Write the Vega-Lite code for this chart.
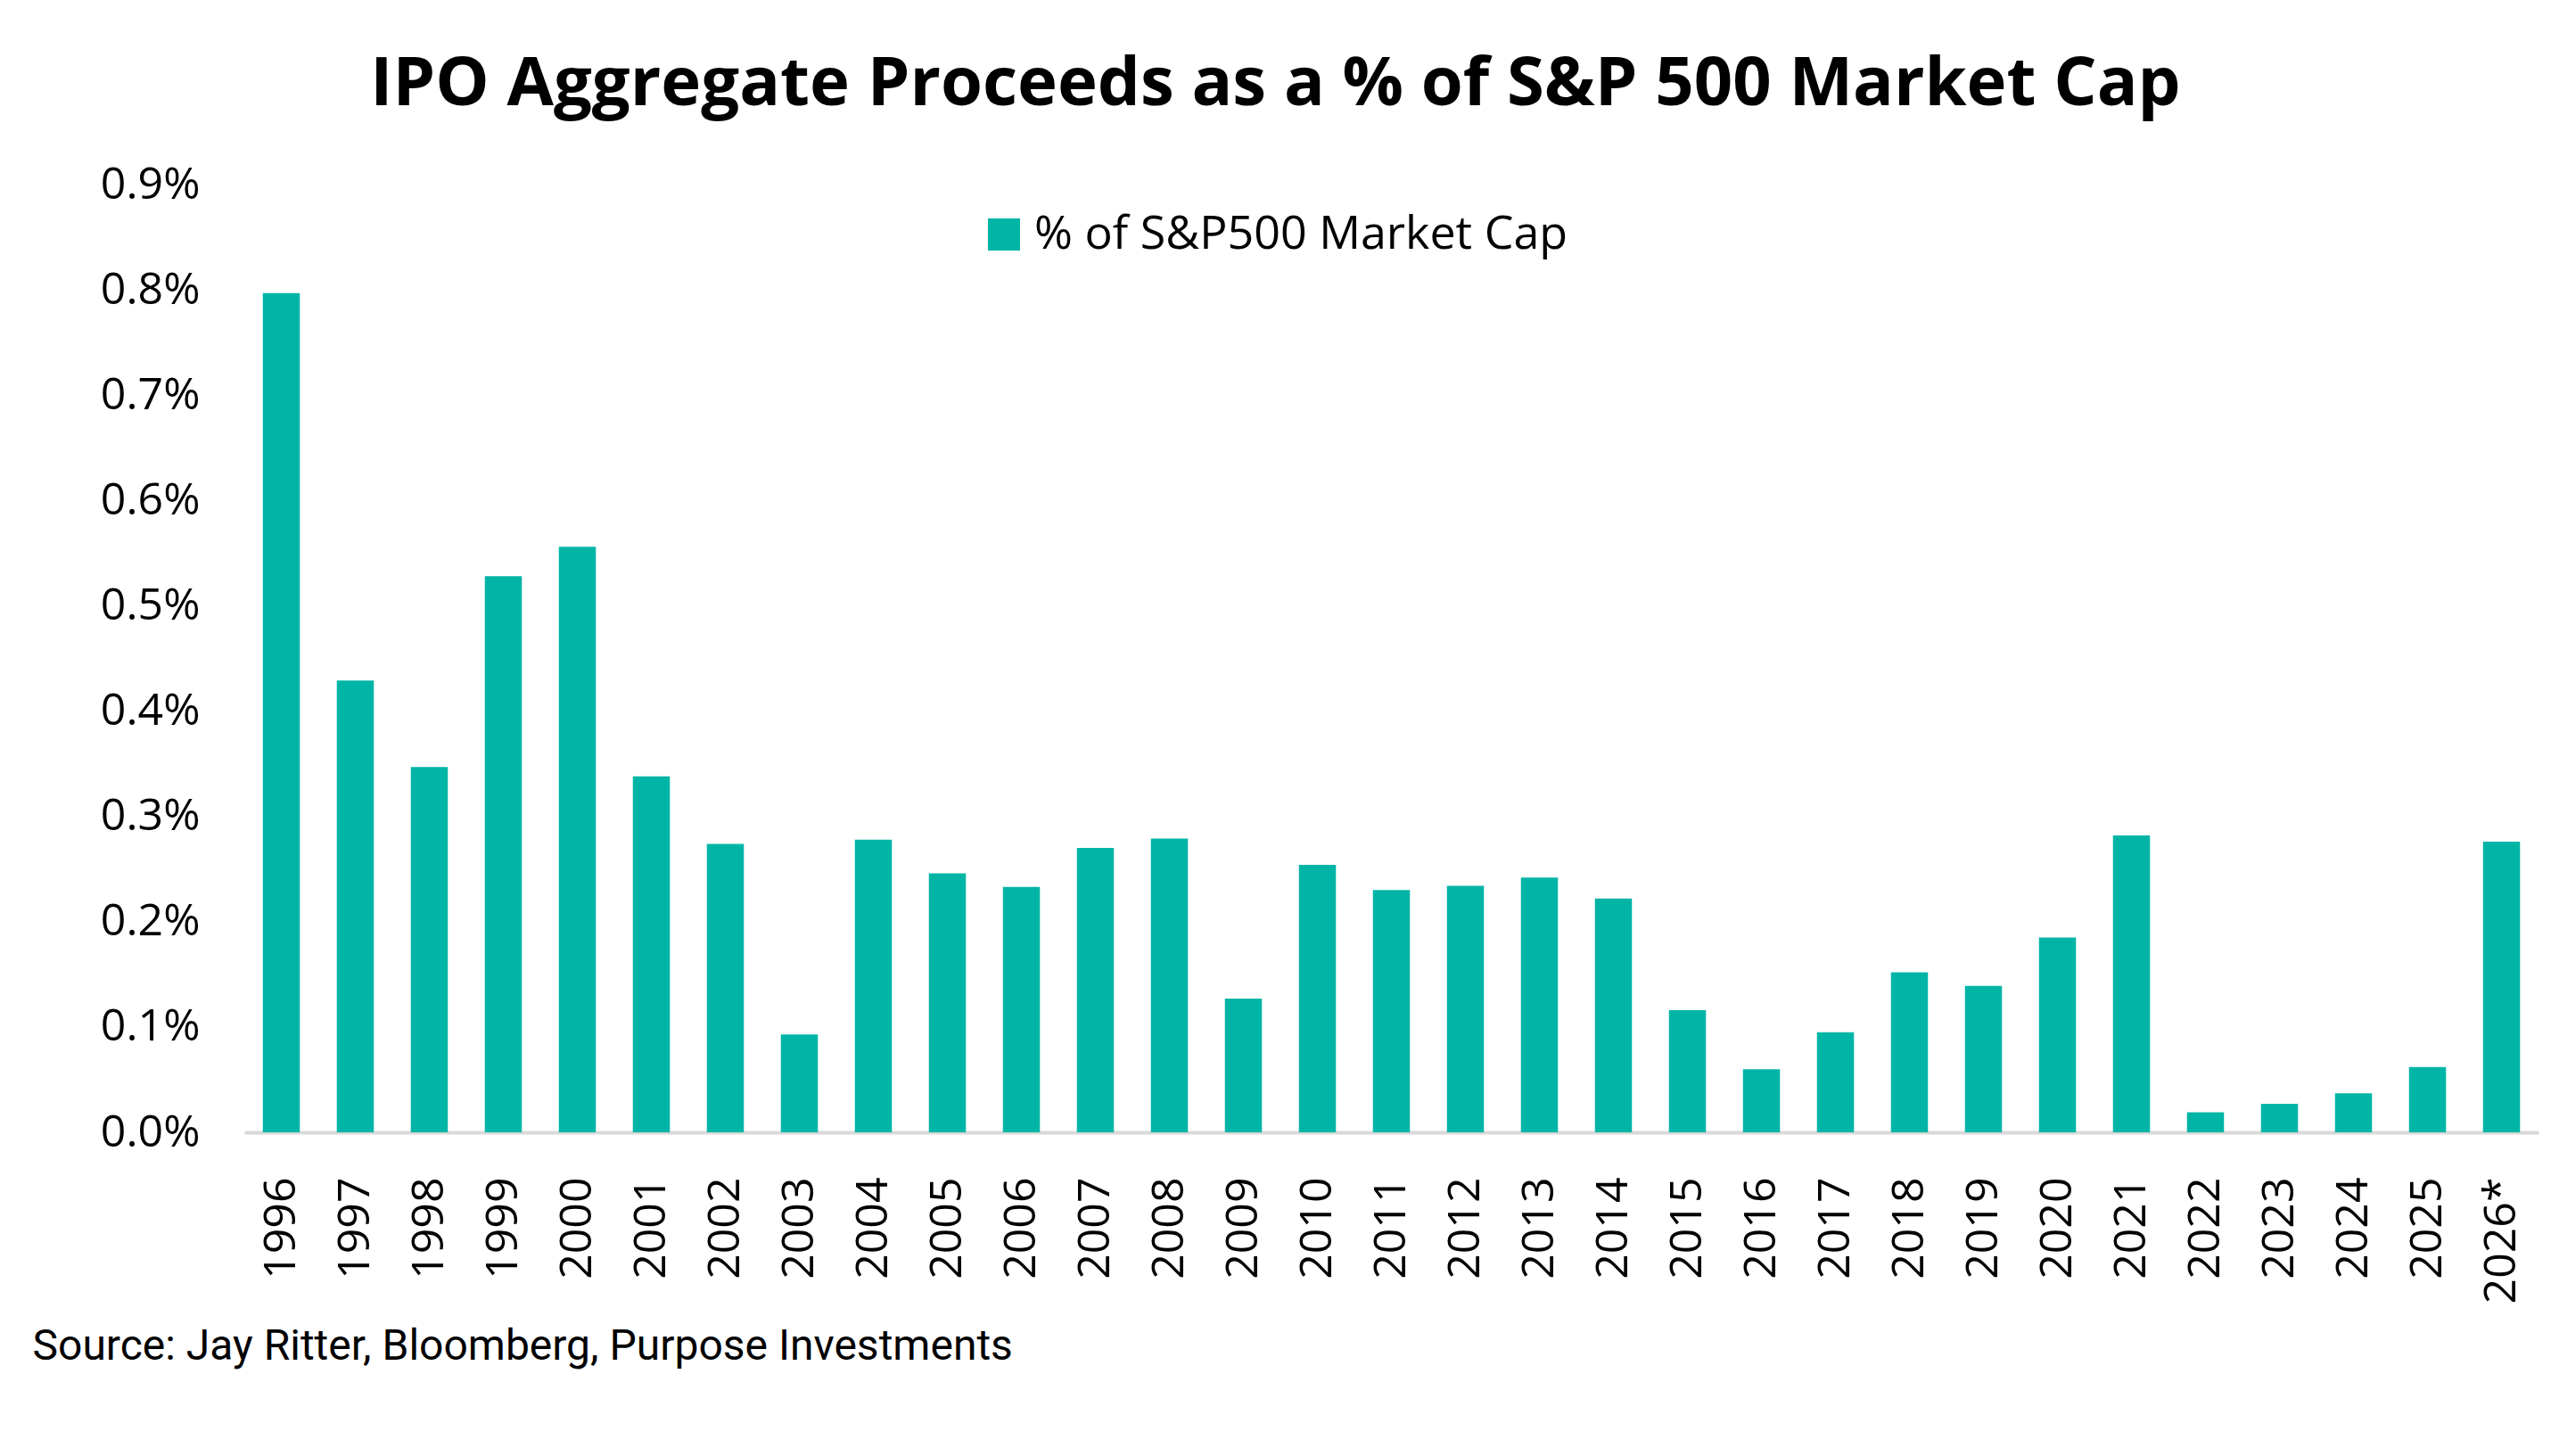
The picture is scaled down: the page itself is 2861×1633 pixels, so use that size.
{
  "$schema": "https://vega.github.io/schema/vega-lite/v6.json",
  "width": 2573,
  "height": 1063,
  "autosize": "none",
  "padding": {"left": 274, "top": 207, "right": 14, "bottom": 363},
  "background": "white",
  "title": {
    "text": "IPO Aggregate Proceeds as a % of S&P 500 Market Cap",
    "fontSize": 76,
    "font": "Open Sans",
    "fontWeight": "bold",
    "color": "black",
    "anchor": "middle",
    "dx": -130,
    "offset": 48
  },
  "config": {"view": {"stroke": null}, "font": "Open Sans"},
  "data": {
    "values": [
      {"year": "1996", "v": 0.00797, "s": "% of S&P500 Market Cap"},
      {"year": "1997", "v": 0.00429, "s": "% of S&P500 Market Cap"},
      {"year": "1998", "v": 0.00347, "s": "% of S&P500 Market Cap"},
      {"year": "1999", "v": 0.00528, "s": "% of S&P500 Market Cap"},
      {"year": "2000", "v": 0.00556, "s": "% of S&P500 Market Cap"},
      {"year": "2001", "v": 0.00338, "s": "% of S&P500 Market Cap"},
      {"year": "2002", "v": 0.00274, "s": "% of S&P500 Market Cap"},
      {"year": "2003", "v": 0.00093, "s": "% of S&P500 Market Cap"},
      {"year": "2004", "v": 0.00278, "s": "% of S&P500 Market Cap"},
      {"year": "2005", "v": 0.00246, "s": "% of S&P500 Market Cap"},
      {"year": "2006", "v": 0.00233, "s": "% of S&P500 Market Cap"},
      {"year": "2007", "v": 0.0027, "s": "% of S&P500 Market Cap"},
      {"year": "2008", "v": 0.00279, "s": "% of S&P500 Market Cap"},
      {"year": "2009", "v": 0.00127, "s": "% of S&P500 Market Cap"},
      {"year": "2010", "v": 0.00254, "s": "% of S&P500 Market Cap"},
      {"year": "2011", "v": 0.0023, "s": "% of S&P500 Market Cap"},
      {"year": "2012", "v": 0.00234, "s": "% of S&P500 Market Cap"},
      {"year": "2013", "v": 0.00242, "s": "% of S&P500 Market Cap"},
      {"year": "2014", "v": 0.00222, "s": "% of S&P500 Market Cap"},
      {"year": "2015", "v": 0.00116, "s": "% of S&P500 Market Cap"},
      {"year": "2016", "v": 0.0006, "s": "% of S&P500 Market Cap"},
      {"year": "2017", "v": 0.00095, "s": "% of S&P500 Market Cap"},
      {"year": "2018", "v": 0.00152, "s": "% of S&P500 Market Cap"},
      {"year": "2019", "v": 0.00139, "s": "% of S&P500 Market Cap"},
      {"year": "2020", "v": 0.00185, "s": "% of S&P500 Market Cap"},
      {"year": "2021", "v": 0.00282, "s": "% of S&P500 Market Cap"},
      {"year": "2022", "v": 0.00019, "s": "% of S&P500 Market Cap"},
      {"year": "2023", "v": 0.00027, "s": "% of S&P500 Market Cap"},
      {"year": "2024", "v": 0.00037, "s": "% of S&P500 Market Cap"},
      {"year": "2025", "v": 0.00062, "s": "% of S&P500 Market Cap"},
      {"year": "2026*", "v": 0.00276, "s": "% of S&P500 Market Cap"}
    ]
  },
  "mark": {"type": "bar"},
  "encoding": {
    "x": {
      "field": "year",
      "type": "ordinal",
      "sort": null,
      "scale": {"paddingInner": 0.5, "paddingOuter": 0.25},
      "axis": {
        "title": "Source: Jay Ritter, Bloomberg, Purpose Investments",
        "titleFont": "Roboto",
        "titleFontSize": 48,
        "titleFontWeight": "normal",
        "titleColor": "black",
        "titleAnchor": "start",
        "titleAlign": "left",
        "titleBaseline": "middle",
        "titleX": -238,
        "titleY": 240,
        "labelAngle": -90,
        "labelFontSize": 50,
        "labelColor": "black",
        "labelPadding": 50,
        "labelBaseline": "middle",
        "labelAlign": "right",
        "ticks": false,
        "domainColor": "#d9d9d9",
        "domainWidth": 4
      }
    },
    "y": {
      "field": "v",
      "type": "quantitative",
      "scale": {"domain": [0, 0.009]},
      "axis": {
        "title": null,
        "format": ".1%",
        "values": [0, 0.001, 0.002, 0.003, 0.004, 0.005, 0.006, 0.007, 0.008, 0.009],
        "labelFontSize": 50,
        "labelColor": "black",
        "labelPadding": 50,
        "grid": false,
        "ticks": false,
        "domain": false
      }
    },
    "color": {
      "field": "s",
      "type": "nominal",
      "scale": {"range": ["#00B5A6"]},
      "legend": {
        "title": null,
        "orient": "none",
        "legendX": 826,
        "legendY": 30,
        "symbolType": "square",
        "symbolSize": 1300,
        "labelFontSize": 52,
        "labelColor": "black",
        "labelOffset": 8,
        "labelLimit": 0
      }
    }
  }
}
